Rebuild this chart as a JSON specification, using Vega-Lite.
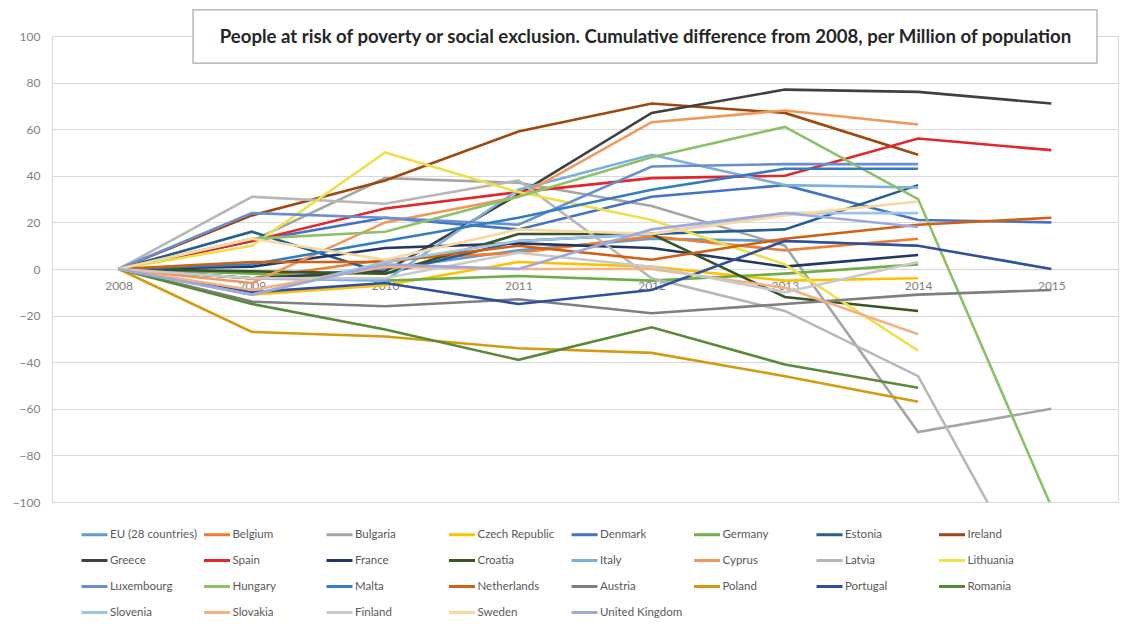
{
  "$schema": "https://vega.github.io/schema/vega-lite/v6.json",
  "width": 1066,
  "height": 466,
  "autosize": "none",
  "padding": {"left": 52, "top": 36, "right": 5, "bottom": 126},
  "background": "white",
  "config": {
    "view": {"stroke": "#D9D9D9", "strokeWidth": 1},
    "font": "Lato",
    "axis": {"grid": true, "gridColor": "#D9D9D9", "ticks": false, "domainColor": "#D9D9D9", "labelColor": "#7F7F7F", "labelFontSize": 12, "labelFont": "Lato", "title": null}
  },
  "datasets": {
    "box": [{"x1": 0.1323, "x2": 0.9803, "y1": 88.4, "y2": 111.2, "tx": 0.5567, "ty": 99.6, "label": "People at risk of poverty or social exclusion. Cumulative difference from 2008, per Million of population"}],
    "rows": [
      {"country":"EU (28 countries)","year":"2008","value":0},{"country":"EU (28 countries)","year":"2009","value":-4},{"country":"EU (28 countries)","year":"2010","value":0},{"country":"EU (28 countries)","year":"2011","value":8},{"country":"EU (28 countries)","year":"2012","value":13},{"country":"EU (28 countries)","year":"2013","value":12},{"country":"EU (28 countries)","year":"2014","value":10},
      {"country":"Belgium","year":"2008","value":0},{"country":"Belgium","year":"2009","value":-4},{"country":"Belgium","year":"2010","value":4},{"country":"Belgium","year":"2011","value":7},{"country":"Belgium","year":"2012","value":14},{"country":"Belgium","year":"2013","value":8},{"country":"Belgium","year":"2014","value":13},
      {"country":"Bulgaria","year":"2008","value":0},{"country":"Bulgaria","year":"2009","value":12},{"country":"Bulgaria","year":"2010","value":39},{"country":"Bulgaria","year":"2011","value":37},{"country":"Bulgaria","year":"2012","value":27},{"country":"Bulgaria","year":"2013","value":10},{"country":"Bulgaria","year":"2014","value":-70},{"country":"Bulgaria","year":"2015","value":-60},
      {"country":"Czech Republic","year":"2008","value":0},{"country":"Czech Republic","year":"2009","value":-11},{"country":"Czech Republic","year":"2010","value":-7},{"country":"Czech Republic","year":"2011","value":3},{"country":"Czech Republic","year":"2012","value":1},{"country":"Czech Republic","year":"2013","value":-5},{"country":"Czech Republic","year":"2014","value":-4},
      {"country":"Denmark","year":"2008","value":0},{"country":"Denmark","year":"2009","value":12},{"country":"Denmark","year":"2010","value":22},{"country":"Denmark","year":"2011","value":17},{"country":"Denmark","year":"2012","value":31},{"country":"Denmark","year":"2013","value":36},{"country":"Denmark","year":"2014","value":21},{"country":"Denmark","year":"2015","value":20},
      {"country":"Germany","year":"2008","value":0},{"country":"Germany","year":"2009","value":-2},{"country":"Germany","year":"2010","value":-5},{"country":"Germany","year":"2011","value":-3},{"country":"Germany","year":"2012","value":-5},{"country":"Germany","year":"2013","value":-2},{"country":"Germany","year":"2014","value":2},
      {"country":"Estonia","year":"2008","value":0},{"country":"Estonia","year":"2009","value":16},{"country":"Estonia","year":"2010","value":-2},{"country":"Estonia","year":"2011","value":12},{"country":"Estonia","year":"2012","value":15},{"country":"Estonia","year":"2013","value":17},{"country":"Estonia","year":"2014","value":36},
      {"country":"Ireland","year":"2008","value":0},{"country":"Ireland","year":"2009","value":23},{"country":"Ireland","year":"2010","value":38},{"country":"Ireland","year":"2011","value":59},{"country":"Ireland","year":"2012","value":71},{"country":"Ireland","year":"2013","value":67},{"country":"Ireland","year":"2014","value":49},
      {"country":"Greece","year":"2008","value":0},{"country":"Greece","year":"2009","value":-4},{"country":"Greece","year":"2010","value":-1},{"country":"Greece","year":"2011","value":32},{"country":"Greece","year":"2012","value":67},{"country":"Greece","year":"2013","value":77},{"country":"Greece","year":"2014","value":76},{"country":"Greece","year":"2015","value":71},
      {"country":"Spain","year":"2008","value":0},{"country":"Spain","year":"2009","value":12},{"country":"Spain","year":"2010","value":26},{"country":"Spain","year":"2011","value":33},{"country":"Spain","year":"2012","value":39},{"country":"Spain","year":"2013","value":40},{"country":"Spain","year":"2014","value":56},{"country":"Spain","year":"2015","value":51},
      {"country":"France","year":"2008","value":0},{"country":"France","year":"2009","value":1},{"country":"France","year":"2010","value":9},{"country":"France","year":"2011","value":11},{"country":"France","year":"2012","value":9},{"country":"France","year":"2013","value":1},{"country":"France","year":"2014","value":6},
      {"country":"Croatia","year":"2008","value":0},{"country":"Croatia","year":"2009","value":-1},{"country":"Croatia","year":"2010","value":-2},{"country":"Croatia","year":"2011","value":15},{"country":"Croatia","year":"2012","value":15},{"country":"Croatia","year":"2013","value":-12},{"country":"Croatia","year":"2014","value":-18},
      {"country":"Italy","year":"2008","value":0},{"country":"Italy","year":"2009","value":-4},{"country":"Italy","year":"2010","value":-5},{"country":"Italy","year":"2011","value":34},{"country":"Italy","year":"2012","value":49},{"country":"Italy","year":"2013","value":36},{"country":"Italy","year":"2014","value":35},
      {"country":"Cyprus","year":"2008","value":0},{"country":"Cyprus","year":"2009","value":-6},{"country":"Cyprus","year":"2010","value":20},{"country":"Cyprus","year":"2011","value":31},{"country":"Cyprus","year":"2012","value":63},{"country":"Cyprus","year":"2013","value":68},{"country":"Cyprus","year":"2014","value":62},
      {"country":"Latvia","year":"2008","value":0},{"country":"Latvia","year":"2009","value":31},{"country":"Latvia","year":"2010","value":28},{"country":"Latvia","year":"2011","value":38},{"country":"Latvia","year":"2012","value":-4},{"country":"Latvia","year":"2013","value":-18},{"country":"Latvia","year":"2014","value":-46},{"country":"Latvia","year":"2015","value":-150},
      {"country":"Lithuania","year":"2008","value":0},{"country":"Lithuania","year":"2009","value":10},{"country":"Lithuania","year":"2010","value":50},{"country":"Lithuania","year":"2011","value":33},{"country":"Lithuania","year":"2012","value":21},{"country":"Lithuania","year":"2013","value":2},{"country":"Lithuania","year":"2014","value":-35},
      {"country":"Luxembourg","year":"2008","value":0},{"country":"Luxembourg","year":"2009","value":24},{"country":"Luxembourg","year":"2010","value":22},{"country":"Luxembourg","year":"2011","value":19},{"country":"Luxembourg","year":"2012","value":44},{"country":"Luxembourg","year":"2013","value":45},{"country":"Luxembourg","year":"2014","value":45},
      {"country":"Hungary","year":"2008","value":0},{"country":"Hungary","year":"2009","value":13},{"country":"Hungary","year":"2010","value":16},{"country":"Hungary","year":"2011","value":31},{"country":"Hungary","year":"2012","value":48},{"country":"Hungary","year":"2013","value":61},{"country":"Hungary","year":"2014","value":30},{"country":"Hungary","year":"2015","value":-102},
      {"country":"Malta","year":"2008","value":0},{"country":"Malta","year":"2009","value":2},{"country":"Malta","year":"2010","value":12},{"country":"Malta","year":"2011","value":22},{"country":"Malta","year":"2012","value":34},{"country":"Malta","year":"2013","value":43},{"country":"Malta","year":"2014","value":43},
      {"country":"Netherlands","year":"2008","value":0},{"country":"Netherlands","year":"2009","value":3},{"country":"Netherlands","year":"2010","value":3},{"country":"Netherlands","year":"2011","value":10},{"country":"Netherlands","year":"2012","value":4},{"country":"Netherlands","year":"2013","value":13},{"country":"Netherlands","year":"2014","value":19},{"country":"Netherlands","year":"2015","value":22},
      {"country":"Austria","year":"2008","value":0},{"country":"Austria","year":"2009","value":-14},{"country":"Austria","year":"2010","value":-16},{"country":"Austria","year":"2011","value":-13},{"country":"Austria","year":"2012","value":-19},{"country":"Austria","year":"2013","value":-15},{"country":"Austria","year":"2014","value":-11},{"country":"Austria","year":"2015","value":-9},
      {"country":"Poland","year":"2008","value":0},{"country":"Poland","year":"2009","value":-27},{"country":"Poland","year":"2010","value":-29},{"country":"Poland","year":"2011","value":-34},{"country":"Poland","year":"2012","value":-36},{"country":"Poland","year":"2013","value":-46},{"country":"Poland","year":"2014","value":-57},
      {"country":"Portugal","year":"2008","value":0},{"country":"Portugal","year":"2009","value":-10},{"country":"Portugal","year":"2010","value":-6},{"country":"Portugal","year":"2011","value":-15},{"country":"Portugal","year":"2012","value":-9},{"country":"Portugal","year":"2013","value":12},{"country":"Portugal","year":"2014","value":10},{"country":"Portugal","year":"2015","value":0},
      {"country":"Romania","year":"2008","value":0},{"country":"Romania","year":"2009","value":-15},{"country":"Romania","year":"2010","value":-26},{"country":"Romania","year":"2011","value":-39},{"country":"Romania","year":"2012","value":-25},{"country":"Romania","year":"2013","value":-41},{"country":"Romania","year":"2014","value":-51},
      {"country":"Slovenia","year":"2008","value":0},{"country":"Slovenia","year":"2009","value":-11},{"country":"Slovenia","year":"2010","value":3},{"country":"Slovenia","year":"2011","value":12},{"country":"Slovenia","year":"2012","value":15},{"country":"Slovenia","year":"2013","value":24},{"country":"Slovenia","year":"2014","value":24},
      {"country":"Slovakia","year":"2008","value":0},{"country":"Slovakia","year":"2009","value":-9},{"country":"Slovakia","year":"2010","value":1},{"country":"Slovakia","year":"2011","value":0},{"country":"Slovakia","year":"2012","value":0},{"country":"Slovakia","year":"2013","value":-8},{"country":"Slovakia","year":"2014","value":-28},
      {"country":"Finland","year":"2008","value":0},{"country":"Finland","year":"2009","value":-4},{"country":"Finland","year":"2010","value":-4},{"country":"Finland","year":"2011","value":7},{"country":"Finland","year":"2012","value":1},{"country":"Finland","year":"2013","value":-10},{"country":"Finland","year":"2014","value":3},
      {"country":"Sweden","year":"2008","value":0},{"country":"Sweden","year":"2009","value":13},{"country":"Sweden","year":"2010","value":4},{"country":"Sweden","year":"2011","value":17},{"country":"Sweden","year":"2012","value":15},{"country":"Sweden","year":"2013","value":23},{"country":"Sweden","year":"2014","value":29},
      {"country":"United Kingdom","year":"2008","value":0},{"country":"United Kingdom","year":"2009","value":-11},{"country":"United Kingdom","year":"2010","value":2},{"country":"United Kingdom","year":"2011","value":0},{"country":"United Kingdom","year":"2012","value":17},{"country":"United Kingdom","year":"2013","value":24},{"country":"United Kingdom","year":"2014","value":18}
    ]
  },
  "layer": [
    {
      "data": {"name": "rows"},
      "mark": {"type": "line", "strokeWidth": 2.6, "clip": true},
      "encoding": {
        "x": {"field": "year", "type": "ordinal", "scale": {"padding": 0.5},
              "axis": {"grid": false, "offset": -233, "labelPadding": 11, "labelAngle": 0, "domain": false}},
        "y": {"field": "value", "type": "quantitative", "scale": {"domain": [-100, 100], "nice": false},
              "axis": {"values": [-100, -80, -60, -40, -20, 0, 20, 40, 60, 80, 100], "labelPadding": 12, "domain": true}},
        "color": {"field": "country", "type": "nominal",
          "scale": {
            "domain": ["EU (28 countries)","Belgium","Bulgaria","Czech Republic","Denmark","Germany","Estonia","Ireland","Greece","Spain","France","Croatia","Italy","Cyprus","Latvia","Lithuania","Luxembourg","Hungary","Malta","Netherlands","Austria","Poland","Portugal","Romania","Slovenia","Slovakia","Finland","Sweden","United Kingdom"],
            "range": ["#5B9BD5","#ED7D31","#A5A5A5","#FFC000","#4472C4","#70AD47","#255E91","#9E480E","#404040","#E3262B","#1F3864","#375623","#7CAFDD","#F1975A","#B7B7B7","#EDE04A","#698ED0","#8CC168","#327DC2","#D26012","#7F7F7F","#D49A10","#2F4F9F","#5A8A39","#9DC3E6","#F4B183","#C9C9C9","#F8D7A0","#9FA8DA"]
          },
          "legend": {"orient": "none", "legendX": 28, "legendY": 484, "direction": "horizontal", "columns": 8, "symbolType": "stroke", "symbolSize": 676, "symbolStrokeWidth": 3, "labelFont": "Lato", "labelFontSize": 11.5, "labelColor": "#595959", "labelOffset": 1, "gridAlign": "all", "columnPadding": 0.5, "rowPadding": 5, "title": null, "padding": 0, "labelLimit": 200}
        }
      }
    },
    {
      "data": {"name": "box"},
      "mark": {"type": "rect", "fill": "white", "stroke": "#A6A6A6", "strokeWidth": 1.2, "clip": false},
      "encoding": {
        "x": {"field": "x1", "type": "quantitative", "scale": {"domain": [0, 1], "nice": false, "zero": false}, "axis": null},
        "x2": {"field": "x2"},
        "y": {"field": "y1", "type": "quantitative"},
        "y2": {"field": "y2"}
      }
    },
    {
      "data": {"name": "box"},
      "mark": {"type": "text", "font": "Lato", "fontWeight": "bold", "fontSize": 18.6, "color": "#262626", "align": "center", "baseline": "middle", "clip": false},
      "encoding": {
        "x": {"field": "tx", "type": "quantitative", "scale": {"domain": [0, 1], "nice": false, "zero": false}, "axis": null},
        "y": {"field": "ty", "type": "quantitative"},
        "text": {"field": "label"}
      }
    }
  ],
  "resolve": {"scale": {"x": "independent"}, "axis": {"x": "independent"}}
}
